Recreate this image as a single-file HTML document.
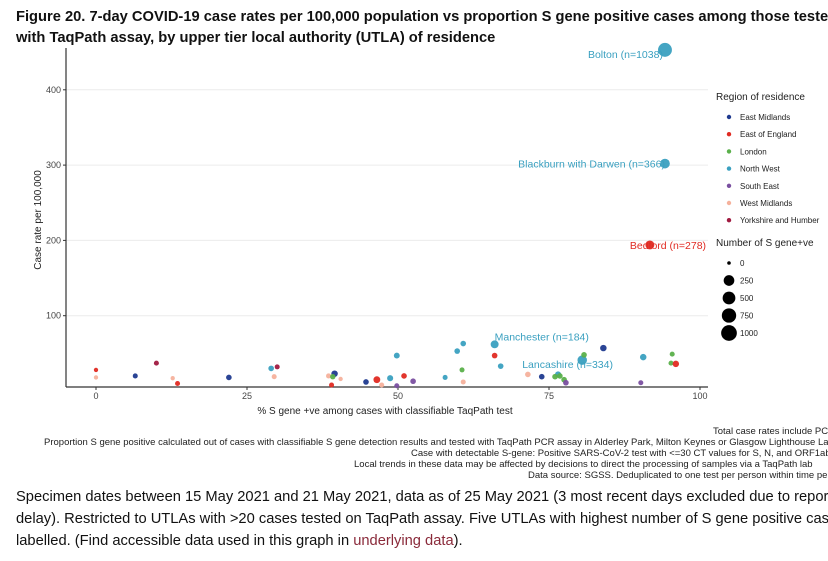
<!DOCTYPE html>
<html><head><meta charset="utf-8"><style>
html,body{margin:0;padding:0;background:#fff;width:828px;height:561px;overflow:hidden;font-family:"Liberation Sans",Arial,sans-serif}
</style></head><body>
<svg width="828" height="561" viewBox="0 0 828 561" style="position:absolute;left:0;top:0">
<text x="16" y="21" font-size="14.7" font-weight="bold" fill="#111">Figure 20. 7-day COVID-19 case rates per 100,000 population vs proportion S gene positive cases among those tested</text>
<text x="16" y="42" font-size="14.7" font-weight="bold" fill="#111">with TaqPath assay, by upper tier local authority (UTLA) of residence</text>
<g id="grid"></g>
<line x1="66" y1="48" x2="66" y2="387" stroke="#333" stroke-width="1.2"/>
<line x1="66" y1="387" x2="708" y2="387" stroke="#333" stroke-width="1.2"/>
<g id="ticks" font-size="9" fill="#444"></g>
<text x="385" y="414" font-size="10" text-anchor="middle" fill="#222">% S gene +ve among cases with classifiable TaqPath test</text>
<text transform="translate(41,220) rotate(-90)" font-size="10" text-anchor="middle" fill="#222">Case rate per 100,000</text>
<g id="points"></g>
<g id="labels" font-size="10.5"></g>
<g id="legend" font-size="8" fill="#222"></g>
<g font-size="9.5" fill="#222">
<text x="713" y="434">Total case rates include PCR and LFD positives</text>
<text x="44" y="445">Proportion S gene positive calculated out of cases with classifiable S gene detection results and tested with TaqPath PCR assay in Alderley Park, Milton Keynes or Glasgow Lighthouse Labs</text>
<text x="411" y="456">Case with detectable S-gene: Positive SARS-CoV-2 test with &lt;=30 CT values for S, N, and ORF1ab</text>
<text x="354" y="467">Local trends in these data may be affected by decisions to direct the processing of samples via a TaqPath lab</text>
<text x="528" y="478">Data source: SGSS. Deduplicated to one test per person within time period</text>
</g>
<g font-size="14.7" fill="#111">
<text x="16" y="501">Specimen dates between 15 May 2021 and 21 May 2021, data as of 25 May 2021 (3 most recent days excluded due to reporting</text>
<text x="16" y="523">delay). Restricted to UTLAs with &gt;20 cases tested on TaqPath assay. Five UTLAs with highest number of S gene positive cases</text>
<text x="16" y="545">labelled. (Find accessible data used in this graph in <tspan fill="#8a2a3a">underlying data</tspan>).</text>
</g>
</svg>
<script>
const regions=["East Midlands","East of England","London","North West","South East","West Midlands","Yorkshire and Humber"];
const regionColors=["#1f3a8f","#e02a22","#5ab04a","#3aa0c0","#7a4fa0","#f5b19c","#a01a40"];
const xTicks=[0,25,50,75,100];
const yTicks=[100,200,300,400];
const sizeLegend=[0,250,500,750,1000];
// [x %, case rate, region index, n S gene+ve]
const pctS=[0,0,6.5,10,12.7,13.5,22,29,30,29.5,38.5,39.5,39.2,40.5,39,44.7,46.5,47.3,48.7,49.8,49.8,51,52.5,57.8,59.8,60.8,60.6,60.8,66,66,67,71.5,73.8,76.5,76,76.8,77.5,77.8,80.5,80.8,84,90.6,90.2,95.4,95.2,96,94.2,94.2,91.7];
const caseRate=[28,18,20,37,17,10,18,30,32,19,20,23,19,16,8,12,15,8,17,47,7,20,13,18,53,63,28,12,62,47,33,22,19,22,19,20,15,11,41,48,57,45,11,49,37,36,453,302,194];
const regionIdx=[1,5,0,6,5,1,0,3,6,5,5,0,2,5,1,0,1,5,3,3,4,1,4,3,3,3,2,5,3,1,3,5,0,3,2,2,2,4,3,2,0,3,4,2,2,1,3,3,1];
const nPos=[5,5,20,20,5,20,40,40,20,20,20,80,30,5,20,40,100,20,60,50,20,40,40,20,40,40,20,20,184,40,40,40,40,60,40,40,40,40,334,40,80,80,20,20,20,80,1038,366,278];
const labelled=[{i:28,t:"Manchester (n=184)",dx:0,dy:-4,a:"start"},{i:38,t:"Lancashire (n=334)",dx:-60,dy:8,a:"start"},{i:46,t:"Bolton (n=1038)",dx:-2,dy:8,a:"end"},{i:47,t:"Blackburn with Darwen (n=366)",dx:0,dy:4,a:"end"},{i:48,t:"Bedford (n=278)",dx:-20,dy:4,a:"start"}];
const NS="http://www.w3.org/2000/svg";
const xs=v=>96+v*6.04, ys=v=>391-v*0.753, rs=n=>1.8+Math.sqrt(n)*0.16;
function mk(tag,attrs,parent){const e=document.createElementNS(NS,tag);for(const k in attrs)e.setAttribute(k,attrs[k]);parent.appendChild(e);return e;}
const grid=document.getElementById('grid'),ticks=document.getElementById('ticks');
yTicks.forEach(v=>{const l=mk('line',{x1:66,x2:708,y1:ys(v),y2:ys(v),stroke:'#ececec','stroke-width':1},grid);


const t=mk('text',{x:61,y:ys(v)+3,'text-anchor':'end'},ticks);t.textContent=v;


mk('line',{x1:63,x2:66,y1:ys(v),y2:ys(v),stroke:'#333'},ticks);});
xTicks.forEach(v=>{const t=mk('text',{x:xs(v),y:399,'text-anchor':'middle'},ticks);t.textContent=v;


mk('line',{x1:xs(v),x2:xs(v),y1:387,y2:390,stroke:'#333'},ticks);});
const pts=document.getElementById('points');
pctS.forEach((x,i)=>{const c=mk('circle',{cx:xs(x),cy:ys(caseRate[i]),r:rs(nPos[i]),fill:regionColors[regionIdx[i]],'fill-opacity':0.95},pts);

});
const lab=document.getElementById('labels');
labelled.forEach(L=>{const t=mk('text',{x:xs(pctS[L.i])+L.dx,y:ys(caseRate[L.i])+L.dy,'text-anchor':L.a,fill:regionColors[regionIdx[L.i]]},lab);t.textContent=L.t;

});
const lg=document.getElementById('legend');
let t=mk('text',{x:716,y:100,'font-size':10},lg);t.textContent="Region of residence";


regions.forEach((r,i)=>{const y=117+i*17.2;
const c=mk('circle',{cx:729,cy:y,r:2.2,fill:regionColors[i]},lg);


const tt=mk('text',{x:740,y:y+3},lg);tt.textContent=r;

});
t=mk('text',{x:716,y:246,'font-size':10},lg);t.textContent="Number of S gene+ve";


sizeLegend.forEach((n,i)=>{const y=263+i*17.5;
const c=mk('circle',{cx:729,cy:y,r:rs(n)+(n>0?1:0),fill:'#000'},lg);


const tt=mk('text',{x:740,y:y+3},lg);tt.textContent=n;

});
</script>
</body></html>
